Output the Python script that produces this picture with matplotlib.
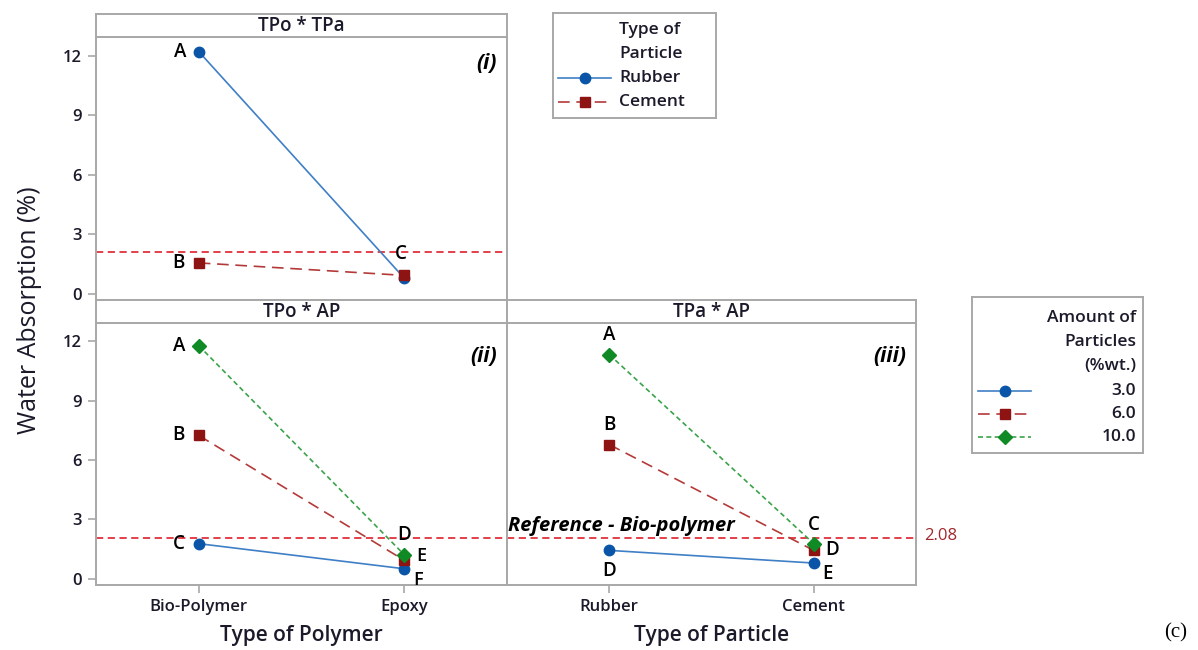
import matplotlib
matplotlib.use("Agg")
import matplotlib.pyplot as plt
from matplotlib.lines import Line2D

# ---------------- data ----------------
polymers = ["Bio-Polymer", "Epoxy"]
particles = ["Rubber", "Cement"]
amounts = ["3.0", "6.0", "10.0"]

tpo_tpa_rubber = [12.2, 0.78]
tpo_tpa_cement = [1.55, 0.92]

tpo_ap_3 = [1.77, 0.50]
tpo_ap_6 = [7.24, 0.93]
tpo_ap_10 = [11.78, 1.21]

tpa_ap_3 = [1.43, 0.79]
tpa_ap_6 = [6.78, 1.43]
tpa_ap_10 = [11.33, 1.77]

reference = 2.08
yticks = [0, 3, 6, 9, 12]

# ---------------- style ----------------
plt.rcParams["font.family"] = ["Open Sans", "DejaVu Sans"]
W, H = 1198, 650
fig = plt.figure(figsize=(W / 100, H / 100), dpi=100)

BLUE_M = "#0b55a8"
BLUE_L = "#3f7fc6"
RED_M = "#8e1414"
RED_L = "#b43a3a"
GREEN_M = "#0f8a25"
GREEN_L = "#3aa34a"
REF_C = "#e0303a"
SPINE = "#a8a8a8"
TXT = "#1a1a2a"

styles = {
    "blue": dict(color=BLUE_L, lw=1.2, ls="-", marker="o", ms=7.5,
                 mfc=BLUE_M, mec=BLUE_M),
    "red": dict(color=RED_L, lw=1.2, ls=(0, (7, 4)), marker="s", ms=7.5,
                mfc=RED_M, mec=RED_M),
    "green": dict(color=GREEN_L, lw=1.2, ls=(0, (3, 2)), marker="D", ms=7,
                  mfc=GREEN_M, mec=GREEN_M),
}


def fx(px):
    return px / W


def fy(py):
    return 1 - py / H


def make_axes(x0, x1, y0, y1):
    return fig.add_axes([fx(x0), fy(y1), fx(x1) - fx(x0), fy(y0) - fy(y1)])


def style_axes(ax):
    for s in ax.spines.values():
        s.set_color(SPINE)
        s.set_linewidth(1.4)
    ax.set_xlim(-0.5, 1.5)
    ax.set_ylim(-0.32, 12.95)
    ax.set_yticks(yticks)
    ax.tick_params(colors=SPINE, length=6, width=1.2, labelcolor=TXT,
                   labelsize=12, pad=4)
    for t in ax.get_xticklabels() + ax.get_yticklabels():
        t.set_fontweight("semibold")


def strip(x0, x1, y0, y1, title):
    a = make_axes(x0, x1, y0, y1)
    a.set_xticks([])
    a.set_yticks([])
    for s in a.spines.values():
        s.set_color(SPINE)
        s.set_linewidth(1.4)
    a.text(0.5, 0.45, title, ha="center", va="center", fontsize=13.5,
           color=TXT, weight="semibold", transform=a.transAxes)
    return a


def label(ax, x, y, s, dx, dy, ha="center", va="center", fs=13.5):
    ax.annotate(s, (x, y), xytext=(dx, dy), textcoords="offset pixels",
                ha=ha, va=va, fontsize=fs, weight="semibold",
                color="black")


xpos = [0, 1]

# ---------------- panel (i) ----------------
ax1 = make_axes(96, 507, 36.7, 300)
ax1.set_xticks([])
style_axes(ax1)
ax1.plot(xpos, tpo_tpa_rubber, **styles["blue"], zorder=3)
ax1.plot(xpos, tpo_tpa_cement, **styles["red"], zorder=4)
ax1.axhline(reference, color=REF_C, ls=(0, (4, 2.5)), lw=1.3, zorder=2)
label(ax1, 0, tpo_tpa_rubber[0], "A", -19, 0)
label(ax1, 0, tpo_tpa_cement[0], "B", -20, 0)
label(ax1, 1, tpo_tpa_cement[1], "C", -3, 21)
ax1.text(0.975, 0.9, "(i)", transform=ax1.transAxes, ha="right", va="center",
         fontsize=15, weight="bold", style="italic", color="black")
strip(96, 507, 14, 36.7, "TPo * TPa")

# ---------------- panel (ii) ----------------
ax2 = make_axes(96, 507, 322.5, 585)
ax2.set_xticks(xpos)
ax2.set_xticklabels(polymers)
style_axes(ax2)
ax2.plot(xpos, tpo_ap_3, **styles["blue"], zorder=3)
ax2.plot(xpos, tpo_ap_6, **styles["red"], zorder=4)
ax2.plot(xpos, tpo_ap_10, **styles["green"], zorder=5)
ax2.axhline(reference, color=REF_C, ls=(0, (4, 2.5)), lw=1.3, zorder=2)
label(ax2, 0, tpo_ap_10[0], "A", -20, 0)
label(ax2, 0, tpo_ap_6[0], "B", -20, 0)
label(ax2, 0, tpo_ap_3[0], "C", -20, 0)
label(ax2, 1, tpo_ap_10[1], "D", 0, 20)
label(ax2, 1, tpo_ap_6[1], "E", 17, 4, fs=13)
label(ax2, 1, tpo_ap_3[1], "F", 14, -11, fs=13)
ax2.text(0.975, 0.87, "(ii)", transform=ax2.transAxes, ha="right",
         va="center", fontsize=15, weight="bold", style="italic",
         color="black")
ax2.set_xlabel("Type of Polymer", fontsize=15, color=TXT,
               weight="semibold", labelpad=7)
strip(96, 507, 300, 322.5, "TPo * AP")

# ---------------- panel (iii) ----------------
ax3 = make_axes(507, 916, 322.5, 585)
ax3.set_xticks(xpos)
ax3.set_xticklabels(particles)
style_axes(ax3)
ax3.set_yticks([])
ax3.plot(xpos, tpa_ap_3, **styles["blue"], zorder=3)
ax3.plot(xpos, tpa_ap_6, **styles["red"], zorder=4)
ax3.plot(xpos, tpa_ap_10, **styles["green"], zorder=5)
ax3.axhline(reference, color=REF_C, ls=(0, (4, 2.5)), lw=1.3, zorder=2)
label(ax3, 0, tpa_ap_10[0], "A", 0, 20)
label(ax3, 0, tpa_ap_6[0], "B", 0, 20)
label(ax3, 0, tpa_ap_3[0], "D", 0, -21)
label(ax3, 1, tpa_ap_10[1], "C", 0, 19)
label(ax3, 1, tpa_ap_6[1], "D", 18, 0)
label(ax3, 1, tpa_ap_3[1], "E", 14, -11)
ax3.text(0.975, 0.87, "(iii)", transform=ax3.transAxes, ha="right",
         va="center", fontsize=15, weight="bold", style="italic",
         color="black")
ax3.annotate("Reference - Bio-polymer", (-0.5, reference), xytext=(1, 12),
             textcoords="offset pixels", ha="left", va="center",
             fontsize=14.5, weight="bold", style="italic", color="black")
ax3.annotate(f"{reference:.2f}", (1.5, reference), xytext=(8, 2),
             textcoords="offset pixels", ha="left", va="center",
             fontsize=12, color="#a0282d", annotation_clip=False)
ax3.set_xlabel("Type of Particle", fontsize=15, color=TXT,
               weight="semibold", labelpad=7)
strip(507, 916, 300, 322.5, "TPa * AP")

# y label
fig.text(fx(30), fy(310), "Water Absorption (%)", rotation=90, ha="center",
         va="center", fontsize=18, color=TXT, weight="medium")

# ---------------- legends (drawn manually) ----------------
def legend_box(x0, x1, y0, y1):
    a = make_axes(x0, x1, y0, y1)
    a.set_xlim(x0, x1)
    a.set_ylim(y1, y0)
    a.set_xticks([])
    a.set_yticks([])
    for s in a.spines.values():
        s.set_color(SPINE)
        s.set_linewidth(1.4)
    return a


LFS = 12.5
lg1 = legend_box(553, 716, 13, 118)
for ty, t in zip([30, 54], ["Type of", "Particle"]):
    lg1.text(619, ty, t, ha="left", va="center", fontsize=LFS,
             weight="semibold", color=TXT)
for ey, key, name in zip([78, 102], ["blue", "red"], particles):
    st = dict(styles[key])
    lg1.add_line(Line2D([558, 611], [ey, ey], markevery=[], **st))
    lg1.add_line(Line2D([584.5], [ey], linestyle="none", marker=st["marker"],
                        ms=st["ms"], mfc=st["mfc"], mec=st["mec"]))
    lg1.text(619, ey, name, ha="left", va="center", fontsize=LFS,
             weight="semibold", color=TXT)

lg2 = legend_box(972, 1143, 297, 453)
for ty, t in zip([318, 342, 366], ["Amount of", "Particles", "(%wt.)"]):
    lg2.text(1136, ty, t, ha="right", va="center", fontsize=LFS,
             weight="semibold", color=TXT)
for ey, key, name in zip([391, 414, 437], ["blue", "red", "green"], amounts):
    st = dict(styles[key])
    lg2.add_line(Line2D([978, 1031], [ey, ey], markevery=[], **st))
    lg2.add_line(Line2D([1004.5], [ey], linestyle="none",
                        marker=st["marker"], ms=st["ms"], mfc=st["mfc"],
                        mec=st["mec"]))
    lg2.text(1136, ey, name, ha="right", va="center", fontsize=LFS,
             weight="semibold", color=TXT)

fig.text(fx(1176), fy(633), "(c)", ha="center", va="center", fontsize=15,
         family=["Liberation Serif", "DejaVu Serif"], color="black")

fig.savefig("out.png", dpi=100)
